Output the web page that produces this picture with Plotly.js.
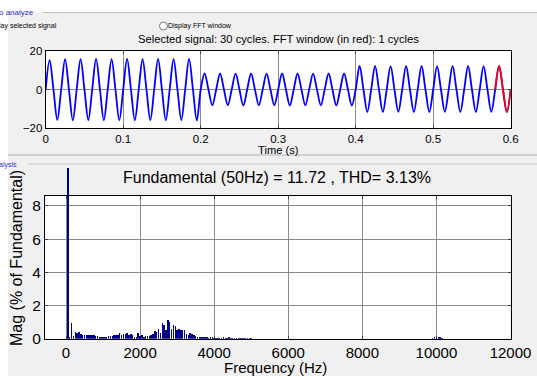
<!DOCTYPE html>
<html>
<head>
<meta charset="utf-8">
<script src="https://cdn.plot.ly/plotly-3.0.1.min.js"></script>
<style>
html,body{margin:0;padding:0;background:#f0f0f0;}
#chart{width:537px;height:376px;}
</style>
</head>
<body>
<div id="chart"></div>
<script>
// ---------- DATA ----------
// Time-domain signal: peak and trough of each of the 30 cycles (50 Hz, 0..0.6 s)
const cyclePeaks = [15.2, 15.8, 15.8, 15.9, 15.8, 15.9, 15.8, 15.9, 15.8, 15.9,
                    8.3, 8.3, 8.2, 8.3, 8.2, 8.3, 8.3, 8.2, 8.3, 8.3,
                    12.2, 12.2, 12.1, 12.2, 12.2, 12.1, 12.2, 12.2, 12.1, 12.2];
const cycleTroughs = [-15.8, -16.0, -15.9, -16.0, -15.9, -16.0, -15.9, -16.0, -15.9, -16.1,
                      -8.2, -8.2, -8.3, -8.2, -8.2, -8.3, -8.2, -8.2, -8.3, -8.3,
                      -11.7, -11.7, -11.6, -11.7, -11.7, -11.6, -11.7, -11.7, -11.6, -11.7];
const fundamentalPeriod = 0.02;
const fftWindowCycles = 1;

// FFT spectrum (% of fundamental)
const fftFreq = [0, 50, 100, 150, 200, 250, 300, 350, 400, 450,
                 500, 550, 600, 650, 700, 750, 800, 850, 900, 950,
                 1000, 1050, 1100, 1150, 1200, 1250, 1300, 1350, 1400, 1450,
                 1500, 1550, 1600, 1650, 1700, 1750, 1800, 1850, 1900, 1950,
                 2000, 2050, 2100, 2150, 2200, 2250, 2300, 2350, 2400, 2450,
                 2500, 2550, 2600, 2650, 2700, 2750, 2800, 2850, 2900, 2950,
                 3000, 3050, 3100, 3150, 3200, 3250, 3300, 3350, 3400, 3450,
                 3500, 3550, 3600, 3650, 3700, 3750, 3800, 3850, 3900, 3950,
                 4000, 4050, 4100, 4150, 4200, 4250, 4300, 4350, 4400, 4450,
                 4500, 4550, 4600, 4650, 4700, 4750, 4800, 4850, 4900, 4950,
                 5000, 9900, 9950, 10000, 10050, 10100, 10150];
const fftMag = [0, 100, 0.1, 0.92, 0.15, 0.42, 0.35, 0.4, 0.28, 0.22,
                0.25, 0.2, 0.24, 0.2, 0.22, 0.2, 0.18, 0.15, 0.12, 0.1,
                0.08, 0.1, 0.12, 0.15, 0.18, 0.15, 0.2, 0.22, 0.2, 0.36,
                0.25, 0.3, 0.28, 0.32, 0.25, 0.3, 0.22, 0.12, 0.1, 0.36,
                0.15, 0.2, 0.12, 0.15, 0.18, 0.15, 0.22, 0.3, 0.45, 0.4,
                0.6, 0.35, 0.95, 0.85, 0.55, 1.1, 1.0, 0.6, 0.8, 0.75,
                0.5, 0.6, 0.5, 0.55, 0.55, 0.3, 0.2, 0.32, 0.3, 0.25,
                0.15, 0.1, 0.08, 0.12, 0.1, 0.08, 0.1, 0.06, 0.12, 0.08,
                0.06, 0.05, 0.04, 0.06, 0.05, 0.1, 0.05, 0.03, 0.08, 0.04,
                0.03, 0.04, 0.03, 0.05, 0.03, 0.02, 0.03, 0.02, 0.03, 0.02,
                0.02, 0.04, 0.1, 0.06, 0.12, 0.08, 0.03];

const timeTicks = [0, 0.1, 0.2, 0.3, 0.4, 0.5, 0.6];
const timeTickText = ['0', '0.1', '0.2', '0.3', '0.4', '0.5', '0.6'];
const sigTicks = [-20, 0, 20];
const freqTicks = [0, 2000, 4000, 6000, 8000, 10000, 12000];
const freqTickText = ['0', '2000', '4000', '6000', '8000', '10000', '12000'];
const magTicks = [0, 2, 4, 6, 8];

const topTitle = 'Selected signal: 30 cycles. FFT window (in red): 1 cycles';
const bottomTitle = 'Fundamental (50Hz) = 11.72 , THD= 3.13%';

// ---------- BUILD ----------
const W = 537, H = 376;
const px = x => x / W;
const py = y => 1 - y / H;

function buildWave(c0, c1) {
  const t = [], v = [];
  for (let c = c0; c < c1; c++) {
    const base = c * fundamentalPeriod;
    const q = fundamentalPeriod / 4;
    if (c === c0) { t.push(base); v.push(0); }
    t.push(base + q);     v.push(cyclePeaks[c]);
    t.push(base + 2 * q); v.push(0);
    t.push(base + 3 * q); v.push(cycleTroughs[c]);
    t.push(base + 4 * q); v.push(0);
  }
  return {t, v};
}
const nCycles = cyclePeaks.length;
const all = buildWave(0, nCycles);
const win = buildWave(nCycles - fftWindowCycles, nCycles);

const FONT = 'Liberation Sans, Arial, sans-serif';

const traces = [
  {x: all.t, y: all.v, type: 'scatter', mode: 'lines', xaxis: 'x', yaxis: 'y',
   line: {color: '#0000ff', width: 1.8, shape: 'spline', smoothing: 1}, hoverinfo: 'skip'},
  {x: win.t, y: win.v, type: 'scatter', mode: 'lines', xaxis: 'x', yaxis: 'y',
   line: {color: '#ff0000', width: 1.8, shape: 'spline', smoothing: 1}, hoverinfo: 'skip'},
  // empty trace so that the spectrum axes box (x2/y2) is created
  {x: [], y: [], type: 'scatter', mode: 'lines', xaxis: 'x2', yaxis: 'y2', hoverinfo: 'skip'},
  {x: fftFreq, y: fftMag, type: 'bar', xaxis: 'x3', yaxis: 'y3',
   width: 40, marker: {color: '#00008c', line: {width: 0}}, hoverinfo: 'skip'}
];

const gridC = '#8a8a8a';
const layout = {
  width: W, height: H,
  margin: {l: 0, r: 0, t: 0, b: 0},
  paper_bgcolor: '#f0f0f0',
  plot_bgcolor: 'rgba(0,0,0,0)',
  showlegend: false,
  bargap: 0,
  font: {family: FONT, color: '#000'},
  xaxis: {domain: [px(45.7), px(510.7)], range: [0, 0.6], anchor: 'y',
          tickvals: timeTicks, ticktext: timeTickText, ticks: 'inside', ticklen: 3,
          showline: true, linecolor: '#000', linewidth: 1, mirror: 'ticks',
          showgrid: true, gridcolor: gridC, gridwidth: 1, zeroline: false,
          tickfont: {size: 11.5, family: FONT, color: '#000'}},
  yaxis: {domain: [py(128), py(51)], range: [-20, 20], anchor: 'x',
          tickvals: sigTicks, ticks: 'inside', ticklen: 3,
          showline: true, linecolor: '#000', linewidth: 1, mirror: 'ticks',
          showgrid: true, gridcolor: gridC, gridwidth: 1, zeroline: false,
          tickfont: {size: 11.5, family: FONT, color: '#000'}},
  xaxis2: {domain: [px(45), px(510.5)], range: [-567, 12000], anchor: 'y2',
           tickvals: freqTicks, ticktext: freqTickText, ticks: 'inside', ticklen: 3,
           showline: true, linecolor: '#000', linewidth: 1, mirror: 'ticks',
           showgrid: true, gridcolor: gridC, gridwidth: 1, zeroline: false,
           tickfont: {size: 15, family: FONT, color: '#000'}},
  yaxis2: {domain: [py(338.7), py(196)], range: [0, 8.6], anchor: 'x2',
           tickvals: magTicks, ticks: 'inside', ticklen: 3,
           showline: true, linecolor: '#000', linewidth: 1, mirror: 'ticks',
           showgrid: true, gridcolor: gridC, gridwidth: 1, zeroline: false,
           tickfont: {size: 15.5, family: FONT, color: '#000'}},
  xaxis3: {domain: [px(45), px(510.5)], range: [-567, 12000], anchor: 'y3', visible: false},
  yaxis3: {domain: [py(338.7), py(168)], range: [0, 8.6 * (338.7 - 168) / (338.7 - 196)], anchor: 'x3', visible: false},
  shapes: [
    {type: 'rect', xref: 'x domain', yref: 'y domain', x0: 0, x1: 1, y0: 0, y1: 1,
     fillcolor: '#ffffff', line: {width: 0}, layer: 'below'},
    {type: 'rect', xref: 'x2 domain', yref: 'y2 domain', x0: 0, x1: 1, y0: 0, y1: 1,
     fillcolor: '#ffffff', line: {width: 0}, layer: 'below'},
    {type: 'rect', xref: 'paper', yref: 'paper', x0: 0, x1: 1, y0: py(12), y1: 1,
     fillcolor: '#ffffff', line: {width: 0}, layer: 'below'},
    {type: 'rect', xref: 'paper', yref: 'paper', x0: 0, x1: px(8), y0: 0, y1: py(12),
     fillcolor: '#ffffff', line: {width: 0}, layer: 'below'},
    {type: 'line', xref: 'paper', yref: 'paper', x0: px(43), x1: 1, y0: py(12.5), y1: py(12.5),
     line: {color: '#c4c4c4', width: 1}},
    {type: 'line', xref: 'paper', yref: 'paper', x0: px(8), x1: 1, y0: py(155), y1: py(155),
     line: {color: '#b4b4b4', width: 1}},
    {type: 'line', xref: 'paper', yref: 'paper', x0: px(28), x1: 1, y0: py(164), y1: py(164),
     line: {color: '#c8c8c8', width: 1}},
    {type: 'circle', xref: 'paper', yref: 'paper', x0: px(159.5), x1: px(167.5), y0: py(30), y1: py(22),
     fillcolor: '#ffffff', line: {color: '#777777', width: 1}}
  ],
  annotations: [
    {text: topTitle, xref: 'paper', yref: 'paper', x: px(278), y: py(39), showarrow: false,
     xanchor: 'center', yanchor: 'middle', font: {size: 11.2, family: FONT, color: '#000'}},
    {text: 'Time (s)', xref: 'paper', yref: 'paper', x: px(278), y: py(149.5), showarrow: false,
     xanchor: 'center', yanchor: 'middle', font: {size: 11.2, family: FONT, color: '#000'}},
    {text: bottomTitle, xref: 'paper', yref: 'paper', x: px(277), y: py(178), showarrow: false,
     xanchor: 'center', yanchor: 'middle', font: {size: 16, family: FONT, color: '#000'}},
    {text: 'Frequency (Hz)', xref: 'paper', yref: 'paper', x: px(275), y: py(367.5), showarrow: false,
     xanchor: 'center', yanchor: 'middle', font: {size: 15, family: FONT, color: '#000'}},
    {text: 'Mag (% of Fundamental)', xref: 'paper', yref: 'paper', x: px(16), y: py(258), showarrow: false,
     textangle: -90, xanchor: 'center', yanchor: 'middle', font: {size: 16, family: FONT, color: '#000'}},
    {text: 'o analyze', xref: 'paper', yref: 'paper', x: 0, y: py(13), showarrow: false,
     xanchor: 'left', yanchor: 'middle', xshift: -3, font: {size: 8, family: FONT, color: '#3030c8'}},
    {text: 'lay selected signal', xref: 'paper', yref: 'paper', x: 0, y: py(25.5), showarrow: false,
     xanchor: 'left', yanchor: 'middle', xshift: -3, font: {size: 7, family: FONT, color: '#000'}},
    {text: 'Display FFT window', xref: 'paper', yref: 'paper', x: px(167.5), y: py(26), showarrow: false,
     xanchor: 'left', yanchor: 'middle', xshift: -2, font: {size: 7, family: FONT, color: '#000'}},
    {text: 'alysis', xref: 'paper', yref: 'paper', x: 0, y: py(165), showarrow: false,
     xanchor: 'left', yanchor: 'middle', xshift: -3, font: {size: 7, family: FONT, color: '#3030c8'}}
  ]
};

Plotly.newPlot('chart', traces, layout, {staticPlot: true, displayModeBar: false});
</script>
</body>
</html>
